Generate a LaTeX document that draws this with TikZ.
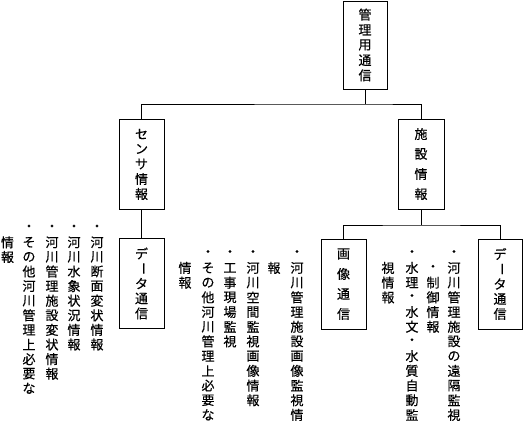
\documentclass[tikz,border=0pt]{standalone}
\usepackage{fontspec}
\setmainfont{Noto Sans CJK JP}[FakeBold=0.3]
\usepackage{graphicx}
\newlength\cellh
\newcommand\vc[1]{\hbox to 14pt{\hss\vbox to \cellh{\vss\hbox{#1}\vss}\hss}}
\def\vcolx#1{\ifx\relax#1\else\vc{#1}\expandafter\vcolx\fi}
\newcommand\vcol[2]{\setlength\cellh{#1pt}\vbox{\offinterlineskip\vcolx#2\relax}}
\newcommand\vbar{\rotatebox[origin=c]{-90}{ー}}
\begin{document}
\begin{tikzpicture}[x=1pt,y=-1pt, line width=0.8pt,
  every node/.style={font=\fontsize{13}{13}\selectfont},
  box/.style={draw, inner sep=0pt, minimum width=45pt, minimum height=90pt},
  col/.style={anchor=north, inner sep=0pt}]
\useasboundingbox (0,0) rectangle (523,425);
% boxes
\node[box, minimum width=44pt, minimum height=88pt] (top) at (365,45) {\vcol{15.2}{管理用通信}};
\node[box] (sensor) at (141.5,164) {\vcol{15}{センサ情報}};
\node[box, minimum width=46pt] (facility) at (421,164) {\vcol{20}{施設情報}};
\node[box] (dataL) at (141.5,283.5) {\vcol{15}{デ\vbar タ通信}};
\node[box] (image) at (343.5,284) {\vcol{20}{画像通信}};
\node[box, minimum width=44pt] (dataR) at (500,284) {\vcol{15}{デ\vbar タ通信}};
% connectors
\coordinate (j1) at (365,104);
\coordinate (j2) at (421,225);
\draw (top.south) -- (j1);
\draw (sensor.north) |- (j1) -| (facility.north);
\draw (sensor.south) -- (dataL.north);
\draw (facility.south) -- (j2);
\draw (image.north) |- (j2) -| (dataR.north);
% left group
\node[col] (l1) at (97,220) {\vcol{14.6}{・河川断面変状情報}};
\node[col] (l2) at (74,220) {\vcol{14.6}{・河川水象状況情報}};
\node[col] (l3) at (52,220) {\vcol{14.6}{・河川管理施設変状情報}};
\node[col] (l4) at (29,220) {\vcol{14.6}{・その他河川管理上必要な}};
\node[col] (l5) at (7.5,234.7) {\vcol{14.6}{情報}};
% middle group
\node[col] (m1) at (297,245.5) {\vcol{14.7}{・河川管理施設画像監視情}};
\node[col] (m2) at (274,260.2) {\vcol{14.7}{報}};
\node[col] (m3) at (253,245.5) {\vcol{14.7}{・河川空間監視画像情報}};
\node[col] (m4) at (230,245.5) {\vcol{14.7}{・工事現場監視}};
\node[col] (m5) at (208,245.5) {\vcol{14.7}{・その他河川管理上必要な}};
\node[col] (m6) at (185,260.2) {\vcol{14.7}{情報}};
% right group
\node[col] (r1) at (454,245.5) {\vcol{14.7}{・河川管理施設の遠隔監視}};
\node[col] (r2) at (433,260.2) {\vcol{14.7}{・制御情報}};
\node[col] (r3) at (412,245.5) {\vcol{14.7}{・水理・水文・水質自動監}};
\node[col] (r4) at (388,260.2) {\vcol{14.7}{視情報}};
\end{tikzpicture}
\end{document}
